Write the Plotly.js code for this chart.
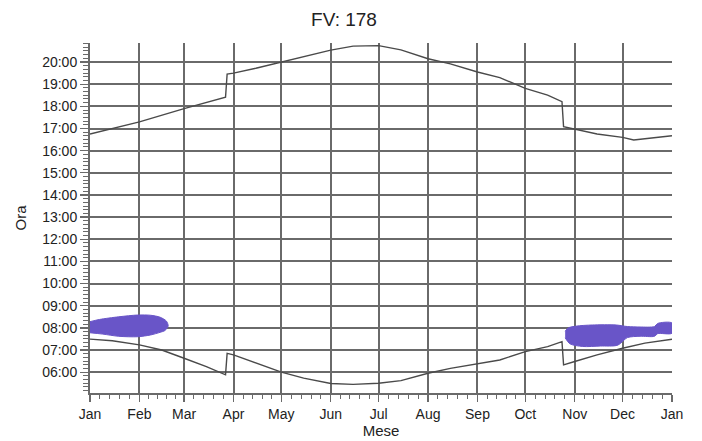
<!DOCTYPE html>
<html><head><meta charset="utf-8">
<script src="https://cdn.plot.ly/plotly-3.0.1.min.js"></script>
<style>html,body{margin:0;padding:0;background:#fff}#chart{width:702px;height:441px}</style>
</head><body><div id="chart"></div>
<script>
const sunsetDates = ['2023-01-01','2023-01-15','2023-02-01','2023-03-01','2023-03-15','2023-03-27','2023-03-28','2023-04-01','2023-04-15','2023-05-01','2023-05-15','2023-06-01','2023-06-15','2023-07-01','2023-07-15','2023-08-01','2023-08-15','2023-09-01','2023-09-15','2023-10-01','2023-10-15','2023-10-24','2023-10-25','2023-11-01','2023-11-15','2023-12-01','2023-12-08','2023-12-15','2023-12-22','2024-01-01'];
const sunsetHours = [16.75,17.0,17.3,17.9,18.16,18.41,19.46,19.5,19.72,20.0,20.27,20.54,20.72,20.74,20.55,20.15,19.92,19.55,19.3,18.81,18.51,18.21,17.08,16.98,16.75,16.6,16.48,16.54,16.58,16.67];

const sunriseDates = ['2023-01-01','2023-01-15','2023-02-01','2023-02-15','2023-03-01','2023-03-15','2023-03-27','2023-03-28','2023-04-01','2023-04-15','2023-05-01','2023-05-15','2023-06-01','2023-06-15','2023-07-01','2023-07-15','2023-08-01','2023-08-15','2023-09-01','2023-09-15','2023-10-01','2023-10-15','2023-10-24','2023-10-25','2023-11-01','2023-11-15','2023-12-01','2023-12-15','2024-01-01'];
const sunriseHours = [7.49,7.42,7.23,7.0,6.63,6.25,5.88,6.85,6.78,6.4,6.0,5.73,5.49,5.45,5.5,5.62,5.95,6.17,6.38,6.55,6.93,7.15,7.38,6.33,6.48,6.78,7.08,7.31,7.49];

const shade1Dates = ['2023-01-01','2023-01-07','2023-01-19','2023-01-31','2023-02-08','2023-02-14','2023-02-18','2023-02-19','2023-02-17','2023-02-14','2023-02-08','2023-01-31','2023-01-19','2023-01-09','2023-01-01'];
const shade1Hours = [8.28,8.38,8.5,8.58,8.57,8.48,8.3,8.08,7.88,7.8,7.68,7.6,7.62,7.72,7.78];

const shade2Dates = ['2023-10-26','2023-10-28','2023-11-02','2023-11-12','2023-11-27','2023-12-04','2023-12-12','2023-12-21','2023-12-23','2024-01-01','2024-01-01','2023-12-23','2023-12-21','2023-12-12','2023-12-04','2023-11-28','2023-11-17','2023-11-06','2023-10-29','2023-10-26'];
const shade2Hours = [7.85,8.0,8.08,8.13,8.13,8.06,8.04,8.06,8.2,8.22,7.76,7.74,7.62,7.62,7.56,7.22,7.18,7.16,7.28,7.55];

const hourTickVals = [6,7,8,9,10,11,12,13,14,15,16,17,18,19,20];
const hourTickText = ['06:00','07:00','08:00','09:00','10:00','11:00','12:00','13:00','14:00','15:00','16:00','17:00','18:00','19:00','20:00'];
const monthStarts = ['2023-01-01','2023-02-01','2023-03-01','2023-04-01','2023-05-01','2023-06-01','2023-07-01','2023-08-01','2023-09-01','2023-10-01','2023-11-01','2023-12-01'];

// minor x ticks: 5 subdivisions per month
const minorX = [];
for (let m = 0; m < 12; m++) {
  const a = Date.UTC(2023, m, 1), b = Date.UTC(2023, m + 1, 1);
  for (let k = 1; k < 5; k++) minorX.push(a + (b - a) * k / 5);
}

const lineCol = '#4a4a4a';
const gridCol = '#6a6a6a';
const shadeCol = 'rgb(105,85,200)';
const xRange = ['2023-01-01', '2024-01-01'];

const traces = [
  // carrier for the grid-only overlay axis (invisible)
  {x: sunsetDates, y: sunsetHours, xaxis: 'x2', mode: 'lines', opacity: 0, line: {width: 0}, hoverinfo: 'skip'},
  {x: sunsetDates, y: sunsetHours, mode: 'lines', line: {color: lineCol, width: 1.4}, hoverinfo: 'skip'},
  {x: sunriseDates, y: sunriseHours, mode: 'lines', line: {color: lineCol, width: 1.4}, hoverinfo: 'skip'},
  {x: shade1Dates, y: shade1Hours, mode: 'lines', fill: 'toself', fillcolor: shadeCol, line: {color: shadeCol, width: 1, shape: 'spline', smoothing: 0.8}, hoverinfo: 'skip'},
  {x: shade2Dates, y: shade2Hours, mode: 'lines', fill: 'toself', fillcolor: shadeCol, line: {color: shadeCol, width: 1, shape: 'spline', smoothing: 0.8}, hoverinfo: 'skip'}
];

const layout = {
  width: 702, height: 441,
  margin: {l: 90, r: 30, t: 43, b: 48},
  paper_bgcolor: '#fff', plot_bgcolor: '#fff',
  showlegend: false,
  font: {family: 'Liberation Sans, Arial, sans-serif', color: '#222', size: 14},
  title: {text: 'FV: 178', x: 344/702, xref: 'container', xanchor: 'center', y: 1 - 19/441, yref: 'container', yanchor: 'middle', font: {size: 19, color: '#222'}},
  xaxis: {
    type: 'date', range: xRange,
    tickmode: 'linear', tick0: '2023-01-01', dtick: 'M1', tickformat: '%b',
    ticks: 'outside', ticklen: 7, tickwidth: 1.3, tickcolor: gridCol,
    showline: true, linecolor: gridCol, linewidth: 2,
    showgrid: false,
    zeroline: false,
    tickfont: {size: 14, color: '#222'},
    minor: {tickmode: 'array', tickvals: minorX, ticks: 'outside', ticklen: 4, tickwidth: 1, tickcolor: gridCol, showgrid: false},
    title: {text: 'Mese', font: {size: 15, color: '#222'}, standoff: 4}
  },
  xaxis2: {
    type: 'date', range: xRange, overlaying: 'x', anchor: 'y', side: 'bottom',
    tickmode: 'array', tickvals: monthStarts,
    showticklabels: false, ticks: '', showline: false, zeroline: false,
    showgrid: true, gridcolor: gridCol, gridwidth: 2
  },
  yaxis: {
    range: [5.06, 20.86],
    tickmode: 'array', tickvals: hourTickVals, ticktext: hourTickText,
    ticks: 'outside', ticklen: 8, tickwidth: 1.3, tickcolor: gridCol,
    showline: true, linecolor: gridCol, linewidth: 2,
    showgrid: true, gridcolor: gridCol, gridwidth: 2,
    zeroline: false,
    tickfont: {size: 14, color: '#222'},
    minor: {tickmode: 'linear', tick0: 0, dtick: 1/6, ticks: 'outside', ticklen: 5, tickwidth: 1, tickcolor: gridCol, showgrid: false},
    title: {text: 'Ora', font: {size: 15, color: '#222'}, standoff: 12}
  }
};

Plotly.newPlot('chart', traces, layout, {staticPlot: true, displayModeBar: false});
</script>
</body></html>
